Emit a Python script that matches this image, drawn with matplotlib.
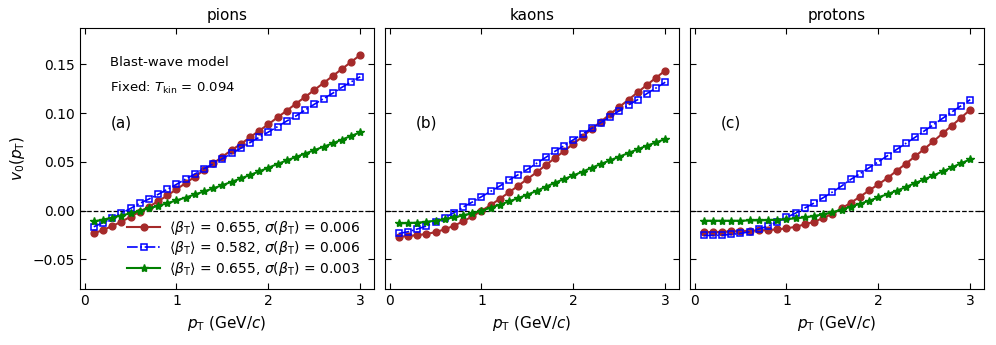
import matplotlib
matplotlib.use("Agg")
import matplotlib.pyplot as plt

pt = [0.1, 0.2, 0.3, 0.4, 0.5, 0.6, 0.7, 0.8, 0.9, 1.0,
      1.1, 1.2, 1.3, 1.4, 1.5, 1.6, 1.7, 1.8, 1.9, 2.0,
      2.1, 2.2, 2.3, 2.4, 2.5, 2.6, 2.7, 2.8, 2.9, 3.0]

pions_red = [-0.0234, -0.0200, -0.0159, -0.0115, -0.0063, -0.0012, 0.0040, 0.0095, 0.0155, 0.0218,
             0.0282, 0.0347, 0.0415, 0.0484, 0.0553, 0.0621, 0.0683, 0.0752, 0.0820, 0.0885,
             0.0957, 0.1025, 0.1097, 0.1166, 0.1238, 0.1309, 0.1381, 0.1453, 0.1525, 0.1597]
pions_blue = [-0.0166, -0.0125, -0.0080, -0.0029, 0.0022, 0.0074, 0.0118, 0.0166, 0.0218, 0.0269,
              0.0324, 0.0375, 0.0430, 0.0480, 0.0533, 0.0587, 0.0639, 0.0697, 0.0752, 0.0806,
              0.0861, 0.0919, 0.0971, 0.1032, 0.1091, 0.1148, 0.1204, 0.1265, 0.1320, 0.1374]
pions_green = [-0.0112, -0.0093, -0.0073, -0.0051, -0.0028, -0.0004, 0.0022, 0.0048, 0.0076, 0.0104,
               0.0134, 0.0165, 0.0196, 0.0228, 0.0261, 0.0295, 0.0330, 0.0365, 0.0402, 0.0440,
               0.0478, 0.0515, 0.0550, 0.0585, 0.0620, 0.0655, 0.0690, 0.0728, 0.0766, 0.0803]

kaons_red = [-0.0269, -0.0262, -0.0252, -0.0241, -0.0221, -0.0193, -0.0156, -0.0111, -0.0060, -0.0002,
             0.0056, 0.0121, 0.0187, 0.0255, 0.0324, 0.0392, 0.0467, 0.0539, 0.0611, 0.0686,
             0.0758, 0.0840, 0.0912, 0.0991, 0.1063, 0.1138, 0.1214, 0.1289, 0.1364, 0.1436]
kaons_blue = [-0.0235, -0.0218, -0.0190, -0.0159, -0.0118, -0.0074, -0.0022, 0.0036, 0.0087, 0.0142,
              0.0197, 0.0252, 0.0313, 0.0368, 0.0423, 0.0485, 0.0546, 0.0608, 0.0666, 0.0727,
              0.0786, 0.0844, 0.0902, 0.0963, 0.1025, 0.1083, 0.1138, 0.1200, 0.1258, 0.1317]
kaons_green = [-0.0132, -0.0128, -0.0125, -0.0115, -0.0104, -0.0087, -0.0070, -0.0050, -0.0026, -0.0002,
               0.0029, 0.0060, 0.0094, 0.0128, 0.0163, 0.0202, 0.0244, 0.0286, 0.0324, 0.0361,
               0.0399, 0.0440, 0.0478, 0.0516, 0.0553, 0.0591, 0.0629, 0.0666, 0.0700, 0.0734]

protons_red = [-0.0221, -0.0221, -0.0218, -0.0214, -0.0211, -0.0207, -0.0204, -0.0200, -0.0193, -0.0183,
               -0.0166, -0.0142, -0.0115, -0.0077, -0.0033, 0.0022, 0.0080, 0.0142, 0.0207, 0.0269,
               0.0334, 0.0409, 0.0481, 0.0557, 0.0632, 0.0711, 0.0793, 0.0871, 0.0953, 0.1035]
protons_blue = [-0.0255, -0.0255, -0.0252, -0.0245, -0.0234, -0.0218, -0.0190, -0.0159, -0.0115, -0.0070,
                -0.0026, 0.0026, 0.0077, 0.0132, 0.0190, 0.0252, 0.0320, 0.0378, 0.0440, 0.0501,
                0.0563, 0.0628, 0.0690, 0.0752, 0.0817, 0.0881, 0.0947, 0.1012, 0.1076, 0.1138]
protons_green = [-0.0105, -0.0105, -0.0105, -0.0105, -0.0105, -0.0101, -0.0101, -0.0098, -0.0094, -0.0087,
                 -0.0080, -0.0070, -0.0056, -0.0039, -0.0018, 0.0010, 0.0039, 0.0070, 0.0101, 0.0135,
                 0.0169, 0.0204, 0.0241, 0.0283, 0.0320, 0.0361, 0.0402, 0.0443, 0.0485, 0.0526]

titles = ["pions", "kaons", "protons"]
panel_tags = ["(a)", "(b)", "(c)"]
legend_labels = [
    r"$\langle\beta_\mathrm{T}\rangle$ = 0.655, $\sigma(\beta_\mathrm{T})$ = 0.006",
    r"$\langle\beta_\mathrm{T}\rangle$ = 0.582, $\sigma(\beta_\mathrm{T})$ = 0.006",
    r"$\langle\beta_\mathrm{T}\rangle$ = 0.655, $\sigma(\beta_\mathrm{T})$ = 0.003",
]
panels = [
    (pions_red, pions_blue, pions_green),
    (kaons_red, kaons_blue, kaons_green),
    (protons_red, protons_blue, protons_green),
]

fig, axes = plt.subplots(1, 3, figsize=(9.96, 3.45), dpi=100, sharey=True)
fig.subplots_adjust(left=0.0803, right=0.988, bottom=0.162, top=0.919, wspace=0.037)

for i, ax in enumerate(axes):
    r, b, g = panels[i]
    ax.axhline(0, color="black", ls="--", lw=0.9, zorder=1)
    ax.plot(pt, r, color="brown", ls="-", lw=1.5, marker="o", ms=4.9, label=legend_labels[0], zorder=3)
    ax.plot(pt, b, color="blue", ls="-.", lw=1.2, marker="s", ms=4.7, mfc="none", mew=1.1,
            label=legend_labels[1], zorder=4)
    ax.plot(pt, g, color="green", ls="-", lw=1.5, marker="*", ms=6.0, label=legend_labels[2], zorder=5)
    ax.set_xlim(-0.05, 3.15)
    ax.set_ylim(-0.0806, 0.1874)
    ax.set_xticks([0, 1, 2, 3])
    ax.set_yticks([-0.05, 0.0, 0.05, 0.10, 0.15])
    ax.tick_params(direction="in", top=True, right=True, labelsize=10, length=4)
    ax.set_title(titles[i], fontsize=11)
    ax.set_xlabel(r"$p_\mathrm{T}$ (GeV/$c$)", fontsize=11)
    ax.text(0.105, 0.636, panel_tags[i], transform=ax.transAxes, fontsize=11, va="center", ha="left")

axes[0].set_ylabel(r"$v_0(p_\mathrm{T})$", fontsize=11)
axes[0].text(0.102, 0.866, "Blast-wave model", transform=axes[0].transAxes, fontsize=9.5, va="center")
axes[0].text(0.102, 0.770, r"Fixed: $T_\mathrm{kin}$ = 0.094", transform=axes[0].transAxes, fontsize=9.5, va="center")
axes[0].legend(loc="lower right", frameon=False, fontsize=10, handlelength=2.4, handletextpad=0.6,
               borderaxespad=0.42, labelspacing=0.17, bbox_to_anchor=(0.99, 0.0))

fig.savefig("out.png", dpi=100)
